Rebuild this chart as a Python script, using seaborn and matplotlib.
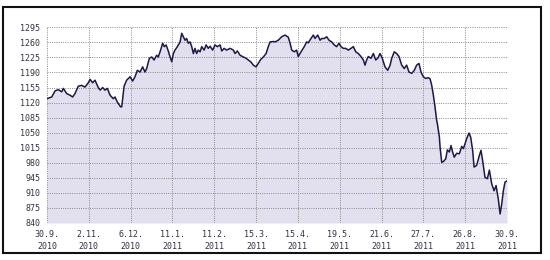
import matplotlib
matplotlib.use("Agg")
import matplotlib.pyplot as plt
import seaborn as sns
import pandas as pd
from matplotlib.patches import Rectangle

# trading-session position (0 = 30.9.2010, 253 = 30.9.2011)
session = [0, 2.6, 4.4, 6.2, 8.1, 9.0, 10.8, 12.7, 14.1, 15.4, 17.2, 19.1, 20.9, 22.7, 23.7,
           25.1, 26.4, 28.2, 29.2, 30.6, 31.9, 33.2, 34.7, 36.5, 37.4, 38.7, 40.5, 41.1, 42.4,
           43.8, 45.7, 47.1, 48.4, 49.7, 51.2, 52.6, 53.9, 54.8, 56.3, 57.6, 58.9, 60.3, 61.2,
           62.5, 63.6, 64.5, 65.5, 66.7, 67.7, 68.6, 69.5, 70.4, 71.7, 73.2, 74.1, 75.0, 75.9,
           76.8, 77.7, 78.7, 79.6, 80.5, 81.4, 82.3, 83.2, 84.2, 85.1, 86.4, 87.5, 88.7, 89.7,
           91.1, 92.4, 93.7, 95.2, 96.1, 97.4, 98.8, 100.7, 102.5, 103.4, 104.7, 106.2, 108.0,
           109.5, 110.7, 112.0, 113.5, 115.0, 116.2, 117.5, 119.0, 120.5, 121.7, 122.7, 124.5,
           125.4, 127.2, 129.1, 130.9, 132.7, 133.7, 134.6, 136.0, 137.3, 138.2, 139.7, 141.5,
           142.8, 143.7, 145.2, 146.5, 147.4, 148.9, 150.2, 151.1, 152.5, 153.8, 155.1, 156.6,
           158.0, 159.3, 160.6, 161.7, 163.0, 164.3, 165.7, 167.2, 168.5, 169.8, 171.2, 172.7,
           174.0, 174.9, 175.8, 176.7, 178.2, 179.5, 180.8, 181.9, 183.2, 184.4, 185.9, 187.4,
           188.7, 189.6, 191.0, 192.3, 193.6, 195.1, 196.5, 197.8, 199.1, 200.6, 202.0, 203.3,
           204.6, 205.7, 207.0, 208.3, 209.7, 210.7, 211.6, 212.5, 213.4, 214.3, 214.7, 215.8,
           216.2, 217.1, 218.0, 219.3, 220.2, 221.3, 222.2, 223.1, 224.0, 225.3, 226.8, 228.1,
           229.0, 229.9, 230.8, 232.1, 233.0, 234.1, 234.9, 236.3, 237.8, 238.7, 239.6, 240.9,
           242.2, 243.3, 244.6, 245.9, 247.0, 248.2, 249.2, 250.1, 251.0, 251.9, 253.0]

index_value = [1129, 1133, 1147, 1150, 1145, 1153, 1141, 1137, 1133, 1141, 1158, 1160, 1156, 1166, 1174,
               1166, 1172, 1155, 1149, 1155, 1149, 1153, 1137, 1129, 1133, 1121, 1110, 1110, 1158,
               1172, 1180, 1170, 1180, 1195, 1191, 1203, 1191, 1199, 1223, 1226, 1219, 1230, 1226,
               1242, 1258, 1250, 1254, 1240, 1226, 1215, 1234, 1242, 1250, 1261, 1281, 1273, 1265,
               1269, 1258, 1261, 1250, 1234, 1246, 1234, 1242, 1238, 1250, 1242, 1254, 1246, 1251,
               1242, 1254, 1250, 1254, 1240, 1246, 1242, 1246, 1242, 1234, 1240, 1230, 1226,
               1223, 1219, 1215, 1207, 1203, 1211, 1220, 1226, 1234, 1250, 1261, 1262,
               1261, 1265, 1273, 1277, 1272, 1258, 1242, 1238, 1242, 1227, 1238, 1250,
               1261, 1259, 1269, 1277, 1269, 1277, 1265, 1269, 1269, 1273, 1265, 1261,
               1254, 1250, 1258, 1250, 1246, 1246, 1242, 1246, 1250, 1238, 1234, 1227,
               1219, 1207, 1219, 1227, 1223, 1234, 1219, 1223, 1234, 1223, 1203, 1195,
               1207, 1223, 1238, 1234, 1227, 1207, 1199, 1207, 1191, 1188, 1195, 1207,
               1211, 1191, 1180, 1176, 1178, 1175, 1160, 1137, 1110, 1079, 1071, 1040,
               1016, 981, 983, 989, 1010, 1005, 1020, 1005, 993, 1002, 1001, 1018,
               1013, 1024, 1036, 1049, 1040, 1009, 970, 974, 997, 1009, 985, 946,
               943, 963, 931, 915, 927, 896, 861, 884, 915, 935, 938]

tick_pos = [0, 23, 46, 69, 92, 115, 138, 161, 184, 207, 230, 253]
tick_labels = ["30.9.\n2010", "2.11.\n2010", "6.12.\n2010", "11.1.\n2011", "11.2.\n2011",
               "15.3.\n2011", "15.4.\n2011", "19.5.\n2011", "21.6.\n2011", "27.7.\n2011",
               "26.8.\n2011", "30.9.\n2011"]
y_ticks = [840, 875, 910, 945, 980, 1015, 1050, 1085, 1120, 1155, 1190, 1225, 1260, 1295]

df = pd.DataFrame({"session": session, "value": index_value})

sns.set_style("white")
plt.rcParams['font.family'] = ['DejaVu Sans Mono', 'DejaVu Sans']

fig = plt.figure(figsize=(5.5, 2.6), dpi=100)
ax = fig.add_axes([47/550, 1 - 223/260, 460/550, (223 - 27.3)/260])

ax.fill_between(df["session"], df["value"], 840, color="#e2dfee", linewidth=0, zorder=1)
sns.lineplot(data=df, x="session", y="value", ax=ax, color="#1e1848", linewidth=1.1, zorder=3)

ax.set_xlim(0, 253)
ax.set_ylim(840, 1295)
ax.set_xticks(tick_pos)
ax.set_xticklabels(tick_labels, fontsize=6, color="#333344", linespacing=1.45)
ax.set_yticks(y_ticks)
ax.set_yticklabels([str(v) for v in y_ticks], fontsize=6, color="#333344")
ax.tick_params(axis="both", length=0)
ax.tick_params(axis="x", pad=5)
ax.tick_params(axis="y", pad=5)
ax.set_xlabel("")
ax.set_ylabel("")
ax.set_axisbelow(False)
ax.grid(True, linestyle=(0, (1, 1.3)), color="#8a8a8a", linewidth=0.7, zorder=2)
for s in ax.spines.values():
    s.set_visible(False)

# outer frame
fig.patches.append(Rectangle((3/550, 1 - 253/260), 538/550, (253 - 6.5)/260,
                             transform=fig.transFigure, fill=False,
                             edgecolor="#111111", linewidth=1.5))

fig.savefig("out.png", dpi=100)
